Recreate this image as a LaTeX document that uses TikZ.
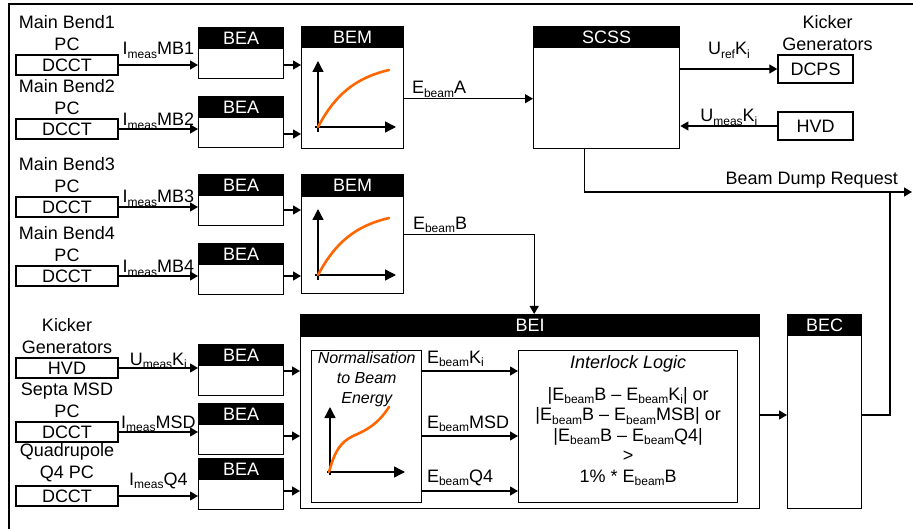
\documentclass[tikz,border=0pt]{standalone}
\usepackage{fontspec}
\setmainfont{Liberation Sans}
\usetikzlibrary{arrows.meta,calc}
\newcommand\sbs[1]{\raisebox{-3.5pt}{\fontsize{12}{12}\selectfont #1}}
\definecolor{curveorange}{RGB}{255,102,0}
\newcommand\bemplot[1]{%
  \begin{scope}[shift={(#1.north west)}]
    \draw[axisarr] (17,106) -- (17,35);
    \draw[axisarr] (14,101) -- (95,101);
    \draw[crv] (17,101) .. controls (34,69) and (54,52) .. (88,44);
  \end{scope}}
\begin{document}
\begin{tikzpicture}[x=1pt,y=-1pt,
  every node/.style={font=\fontsize{18}{22}\selectfont},
  blk/.style={draw, line width=1.4pt, fill=white, inner sep=0pt, anchor=north west},
  hdr/.style={draw, fill=black, line width=1.4pt, text=white, inner sep=0pt, anchor=north},
  src/.style={draw, line width=1.4pt, inner sep=0pt, minimum width=102pt, minimum height=20pt},
  smallbox/.style={draw, line width=1.4pt, inner sep=0pt, minimum width=75pt, minimum height=28pt},
  ttl/.style={align=center, anchor=south, inner sep=3pt},
  arr/.style={line width=1.3pt, -{Triangle[length=8pt,width=9pt]}},
  wire/.style={line width=1.3pt},
  axisarr/.style={line width=1.4pt, -{Triangle[length=11pt,width=11pt]}},
  crv/.style={line width=2.6pt, draw=curveorange, line cap=round},
  lb/.style={anchor=base, inner sep=0pt},
  lbw/.style={anchor=base west, inner sep=0pt},
]
\useasboundingbox (0,0) rectangle (913,529);
\draw[line width=2.5pt] (9,529) -- (9,4) -- (913,4);

% row coordinates
\coordinate (k1) at (0,371);
\coordinate (k2) at (0,436);
\coordinate (k3) at (0,491);
\coordinate (k4) at (0,415);
\coordinate (jn) at (890,192);
\coordinate (dumpend) at (912,192);

% sources
\node[src] (dcct1) at (67,65) {DCCT};
\node[ttl] (t1) at (dcct1.north) {Main Bend1\\PC};
\node[src] (dcct2) at (67,129) {DCCT};
\node[ttl] (t2) at (dcct2.north) {Main Bend2\\PC};
\node[src] (dcct3) at (67,207) {DCCT};
\node[ttl] (t3) at (dcct3.north) {Main Bend3\\PC};
\node[src] (dcct4) at (67,276) {DCCT};
\node[ttl] (t4) at (dcct4.north) {Main Bend4\\PC};
\node[src] (hvdl) at (67,368) {HVD};
\node[ttl] (t5) at (hvdl.north) {Kicker\\Generators};
\node[src] (dcct6) at (67,432) {DCCT};
\node[ttl] (t6) at (dcct6.north) {Septa MSD\\PC};
\node[src] (dcct7) at (67,496) {DCCT};
\node[ttl] (t7) at (dcct7.north) {Quadrupole\\Q4 PC};

% BEA blocks
\foreach \i/\y in {1/27,2/96,3/174,4/243,5/344,6/403,7/458}{
  \node[blk, minimum width=85pt, minimum height=51pt] (bea\i) at (198,\y) {};
  \node[hdr, minimum width=85pt, minimum height=21pt] (beah\i) at (bea\i.north) {BEA};
}

% BEM blocks
\node[blk, minimum width=102pt, minimum height=122pt] (bem1) at (301,26) {};
\node[hdr, minimum width=102pt, minimum height=21pt] (bemh1) at (bem1.north) {BEM};
\bemplot{bem1}
\node[blk, minimum width=102pt, minimum height=119pt] (bem2) at (301,174) {};
\node[hdr, minimum width=102pt, minimum height=22pt] (bemh2) at (bem2.north) {BEM};
\bemplot{bem2}

% SCSS
\node[blk, minimum width=146pt, minimum height=122pt] (scss) at (533,26) {};
\node[hdr, minimum width=146pt, minimum height=21pt] (scssh) at (scss.north) {SCSS};
\node[smallbox] (dcps) at (815.5,69) {DCPS};
\node[ttl] (tk) at ([xshift=12pt]dcps.north) {Kicker\\Generators};
\node[smallbox] (hvdr) at (815.5,126) {HVD};

% BEI
\node[blk, minimum width=459pt, minimum height=194pt] (bei) at (300,314) {};
\node[hdr, minimum width=459pt, minimum height=22pt] (beih) at (bei.north) {BEI};
\node[blk, minimum width=110pt, minimum height=152pt] (norm) at (311,350) {};
\node[font=\fontsize{16}{20}\selectfont\itshape, align=center, anchor=north, inner sep=0pt] (normt) at ([yshift=-2pt]norm.north) {Normalisation\\to Beam\\Energy};
\begin{scope}[shift={(norm.north west)}]
  \draw[axisarr] (19,125) -- (19,57);
  \draw[axisarr] (16,122) -- (94,122);
  \draw[crv] (18,122) .. controls (24,100) and (30,92) .. (42,86) .. controls (56,80) and (67,74) .. (78,57);
\end{scope}
\node[blk, minimum width=219pt, minimum height=152pt] (inter) at (518,350) {};
\node[font=\fontsize{18}{22}\selectfont\itshape, anchor=north, inner sep=0pt] (intert) at ([yshift=-5pt]inter.north) {Interlock Logic};
\node[align=center, font=\fontsize{18}{20.5}\selectfont, inner sep=0pt] (interb) at ([yshift=-10pt]inter.center)
  {|E\sbs{beam}B -- E\sbs{beam}K\sbs{i}| or\\
   |E\sbs{beam}B -- E\sbs{beam}MSB| or\\
   |E\sbs{beam}B -- E\sbs{beam}Q4|\\
   >\\
   1\% * E\sbs{beam}B};

% BEC
\node[blk, minimum width=74pt, minimum height=194pt] (bec) at (787,314) {};
\node[hdr, minimum width=74pt, minimum height=21pt] (bech) at (bec.north) {BEC};

% source -> BEA arrows
\draw[arr] (dcct1.east) -- (dcct1 -| bea1.west) node[midway, lb, yshift=10pt] (l1) {I\sbs{meas}MB1};
\draw[arr] (dcct2.east) -- (dcct2 -| bea2.west) node[midway, lb, yshift=3pt] (l2) {I\sbs{meas}MB2};
\draw[arr] (dcct3.east) -- (dcct3 -| bea3.west) node[midway, lb, yshift=4pt] (l3) {I\sbs{meas}MB3};
\draw[arr] (dcct4.east) -- (dcct4 -| bea4.west) node[midway, lb, yshift=3pt] (l4) {I\sbs{meas}MB4};
\draw[arr] (hvdl.east) -- (hvdl -| bea5.west) node[midway, lb, yshift=3pt] (l5) {U\sbs{meas}K\sbs{i}};
\draw[arr] (dcct6.east) -- (dcct6 -| bea6.west) node[midway, lb, yshift=4pt] (l6) {I\sbs{meas}MSD};
\draw[arr] (dcct7.east) -- (dcct7 -| bea7.west) node[midway, lb, yshift=11pt] (l7) {I\sbs{meas}Q4};

% BEA -> BEM / BEI
\draw[arr] (bea1.east |- dcct1) -- (bem1.west |- dcct1);
\draw[arr] (bea2.east |- 0,134) -- (bem1.west |- 0,134);
\draw[arr] (bea3.east |- 0,210) -- (bem2.west |- 0,210);
\draw[arr] (bea4.east |- dcct4) -- (bem2.west |- dcct4);
\draw[arr] (bea5.east |- k1) -- (bei.west |- k1);
\draw[arr] (bea6.east |- k2) -- (bei.west |- k2);
\draw[arr] (bea7.east |- k3) -- (bei.west |- k3);

% BEM outputs
\draw[arr] ([yshift=-11pt]bem1.east) coordinate (ea) node[lbw, xshift=7pt, yshift=5pt] (lea) {E\sbs{beam}A} -- (ea -| scss.west);
\draw[arr] (bem2.east) node[lbw, xshift=8pt, yshift=5pt] (leb) {E\sbs{beam}B} -| ([xshift=4pt]bei.north);

% SCSS connections
\draw[arr] (scss.east |- dcps) -- (dcps.west) node[midway, lb, yshift=14pt] (lur) {U\sbs{ref}K\sbs{i}};
\draw[arr] (hvdr.west) -- (scss.east |- hvdr) node[midway, lb, yshift=4pt] (lum) {U\sbs{meas}K\sbs{i}};
\draw[arr] ([xshift=-22pt]scss.south) |- (dumpend);
\node[anchor=base east, inner sep=0pt] (ldump) at ([xshift=-14pt, yshift=7pt]dumpend) {Beam Dump Request};

% inside BEI
\draw[arr] (norm.east |- k1) -- (inter.west |- k1) node[pos=0, lbw, xshift=4pt, yshift=8pt] (lk) {E\sbs{beam}K\sbs{i}};
\draw[arr] (norm.east |- k2) -- (inter.west |- k2) node[pos=0, lbw, xshift=4pt, yshift=8pt] (lm) {E\sbs{beam}MSD};
\draw[arr] (norm.east |- k3) -- (inter.west |- k3) node[pos=0, lbw, xshift=4pt, yshift=9pt] (lq) {E\sbs{beam}Q4};

% BEI -> BEC -> dump
\draw[arr] (bei.east |- k4) -- (bec.west |- k4);
\draw[wire] (bec.east |- k4) -| (jn);
\end{tikzpicture}
\end{document}
